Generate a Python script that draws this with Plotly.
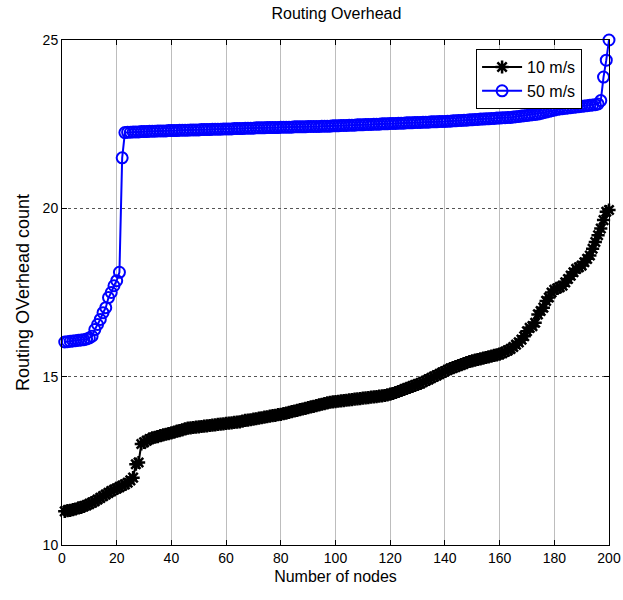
import plotly.graph_objects as go

# Node index (1..200) shared by both speed scenarios
nodes = list(range(1, 201))

# Routing overhead count, 10 m/s
overhead_10 = [
    11.00, 11.02, 11.03, 11.05, 11.07, 11.10, 11.12, 11.15, 11.18, 11.22,
    11.26, 11.30, 11.35, 11.40, 11.45, 11.50, 11.55, 11.60, 11.64, 11.68,
    11.72, 11.76, 11.80, 11.85, 11.92, 12.00, 12.40, 12.45, 13.00, 13.05,
    13.10, 13.15, 13.18, 13.20, 13.22, 13.25, 13.27, 13.29, 13.31, 13.33,
    13.35, 13.38, 13.40, 13.42, 13.45, 13.47, 13.48, 13.49, 13.50, 13.51,
    13.52, 13.53, 13.54, 13.55, 13.56, 13.57, 13.58, 13.59, 13.60, 13.61,
    13.62, 13.63, 13.64, 13.65, 13.66, 13.68, 13.70, 13.71, 13.72, 13.74,
    13.75, 13.77, 13.78, 13.80, 13.81, 13.83, 13.84, 13.85, 13.87, 13.88,
    13.90, 13.92, 13.94, 13.96, 13.98, 14.00, 14.02, 14.04, 14.06, 14.08,
    14.10, 14.12, 14.14, 14.16, 14.18, 14.20, 14.22, 14.24, 14.25, 14.26,
    14.27, 14.28, 14.29, 14.30, 14.31, 14.32, 14.33, 14.34, 14.35, 14.36,
    14.37, 14.38, 14.39, 14.40, 14.41, 14.42, 14.43, 14.44, 14.46, 14.48,
    14.50, 14.53, 14.56, 14.59, 14.62, 14.65, 14.68, 14.71, 14.74, 14.77,
    14.80, 14.84, 14.88, 14.92, 14.96, 15.00, 15.04, 15.08, 15.12, 15.16,
    15.20, 15.24, 15.27, 15.30, 15.33, 15.36, 15.39, 15.42, 15.45, 15.47,
    15.49, 15.51, 15.53, 15.55, 15.57, 15.59, 15.61, 15.63, 15.65, 15.67,
    15.70, 15.74, 15.78, 15.82, 15.88, 15.95, 16.02, 16.10, 16.20, 16.35,
    16.45, 16.50, 16.60, 16.85, 16.95, 17.05, 17.25, 17.35, 17.50, 17.58,
    17.62, 17.66, 17.70, 17.80, 17.90, 18.00, 18.10, 18.20, 18.25, 18.30,
    18.40, 18.50, 18.60, 18.80, 19.00, 19.20, 19.40, 19.65, 19.90, 19.95,
]

# Routing overhead count, 50 m/s
overhead_50 = [
    16.03, 16.04, 16.05, 16.06, 16.07, 16.08, 16.09, 16.10, 16.12, 16.15,
    16.20, 16.40, 16.55, 16.70, 16.90, 17.05, 17.35, 17.50, 17.70, 17.85,
    18.10, 21.50, 22.25, 22.26, 22.26, 22.27, 22.27, 22.27, 22.28, 22.28,
    22.28, 22.29, 22.29, 22.29, 22.30, 22.30, 22.30, 22.30, 22.31, 22.31,
    22.31, 22.31, 22.32, 22.32, 22.32, 22.32, 22.33, 22.33, 22.33, 22.33,
    22.34, 22.34, 22.34, 22.34, 22.35, 22.35, 22.35, 22.35, 22.36, 22.36,
    22.36, 22.36, 22.37, 22.37, 22.37, 22.37, 22.38, 22.38, 22.38, 22.38,
    22.39, 22.39, 22.39, 22.39, 22.40, 22.40, 22.40, 22.40, 22.40, 22.41,
    22.41, 22.41, 22.41, 22.41, 22.42, 22.42, 22.42, 22.42, 22.42, 22.43,
    22.43, 22.43, 22.43, 22.43, 22.44, 22.44, 22.44, 22.44, 22.45, 22.45,
    22.45, 22.46, 22.46, 22.46, 22.47, 22.47, 22.47, 22.48, 22.48, 22.48,
    22.49, 22.49, 22.49, 22.50, 22.50, 22.50, 22.51, 22.51, 22.51, 22.52,
    22.52, 22.52, 22.53, 22.53, 22.53, 22.54, 22.54, 22.54, 22.55, 22.55,
    22.55, 22.56, 22.56, 22.56, 22.57, 22.57, 22.57, 22.58, 22.58, 22.58,
    22.59, 22.59, 22.60, 22.60, 22.61, 22.61, 22.62, 22.62, 22.63, 22.63,
    22.64, 22.64, 22.65, 22.65, 22.66, 22.66, 22.67, 22.67, 22.68, 22.68,
    22.69, 22.69, 22.70, 22.70, 22.71, 22.72, 22.73, 22.74, 22.75, 22.76,
    22.77, 22.78, 22.79, 22.80, 22.82, 22.84, 22.86, 22.88, 22.90, 22.92,
    22.94, 22.95, 22.96, 22.97, 22.98, 22.99, 23.00, 23.01, 23.02, 23.03,
    23.04, 23.05, 23.06, 23.07, 23.08, 23.10, 23.20, 23.90, 24.40, 25.00,
]

x_ticks = [0, 20, 40, 60, 80, 100, 120, 140, 160, 180, 200]
y_ticks = [10, 15, 20, 25]

FONT = "Liberation Sans, Arial, sans-serif"

fig = go.Figure()

fig.add_trace(go.Scatter(
    x=nodes, y=overhead_10, name="10 m/s",
    mode="lines+markers",
    line=dict(color="black", width=2),
    marker=dict(symbol="asterisk-open", size=11, color="black",
                line=dict(color="black", width=2.5)),
    cliponaxis=False,
))

fig.add_trace(go.Scatter(
    x=nodes, y=overhead_50, name="50 m/s",
    mode="lines+markers",
    line=dict(color="#0000ff", width=2),
    marker=dict(symbol="circle-open", size=11, color="#0000ff",
                line=dict(color="#0000ff", width=2)),
    cliponaxis=False,
))

axis_common = dict(
    showline=True, linecolor="black", linewidth=1, mirror="ticks",
    ticks="inside", ticklen=5, tickcolor="black",
    zeroline=False, automargin=False, ticklabeloverflow="allow",
    tickfont=dict(family=FONT, size=14, color="black"),
)

fig.update_xaxes(
    range=[0, 200], tickvals=x_ticks,
    showgrid=True, gridcolor="#bdbdbd", gridwidth=1,
    title=dict(text="Number of nodes", font=dict(family=FONT, size=16, color="black"),
               standoff=6),
    **axis_common,
)
fig.update_yaxes(
    range=[10, 25], tickvals=y_ticks,
    showgrid=True, gridcolor="#555555", gridwidth=1, griddash="dot",
    title=dict(text="Routing OVerhead count", font=dict(family=FONT, size=18, color="black"),
               standoff=8),
    **axis_common,
)

fig.update_layout(
    width=623, height=600,
    margin=dict(l=62, r=14, t=40, b=55),
    paper_bgcolor="white", plot_bgcolor="white",
    title=dict(text="Routing Overhead", x=0.54, xanchor="center",
               y=0.977, yanchor="middle",
               font=dict(family=FONT, size=16, color="black")),
    legend=dict(
        x=0.757, y=0.982, xanchor="left", yanchor="top",
        bgcolor="white", bordercolor="black", borderwidth=1,
        font=dict(family=FONT, size=16, color="black"),
        itemwidth=40, tracegroupgap=0,
    ),
    showlegend=True,
)

fig.write_html("out.html")
